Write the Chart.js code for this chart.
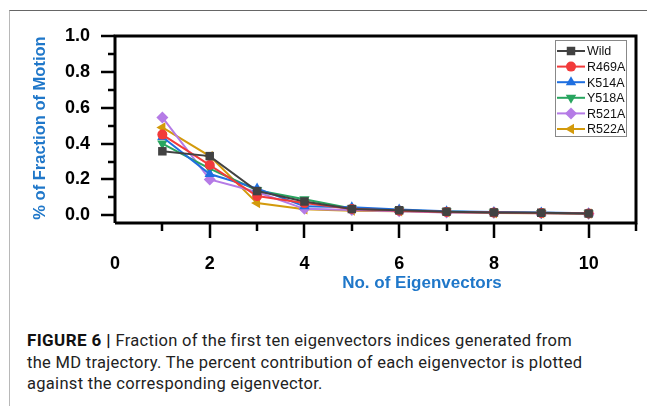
<!DOCTYPE html>
<html>
<head>
<meta charset="utf-8">
<script src="https://cdn.jsdelivr.net/npm/chart.js@4"></script>
<style>
  body { margin: 0; background: #fff; width: 647px; height: 406px; overflow: hidden; position: relative; font-family: "Liberation Sans", Arial, sans-serif; }
  #frame { position: absolute; left: 9px; top: 10px; width: 700px; height: 420px; border-top: 1.5px solid #666; border-left: 1.5px solid #b8b8b8; }
  #wrap { position: absolute; left: 0; top: 0; width: 647px; height: 300px; }
  #caption { position: absolute; left: 27px; top: 330px; width: 620px; white-space: nowrap; font-size: 16.5px; line-height: 21.5px; color: #222; font-family: Roboto, "Liberation Sans", Arial, sans-serif; letter-spacing: 0.3px; }
  #caption b { font-weight: 700; color: #111; font-size: 17px; letter-spacing: 0.4px; }
</style>
</head>
<body>
<div id="frame"></div>
<div id="wrap"><canvas id="motionChart" width="647" height="300"></canvas></div>
<div id="caption"><b>FIGURE 6 |</b> Fraction of the first ten eigenvectors indices generated from<br>the MD trajectory. The percent contribution of each eigenvector is plotted<br>against the corresponding eigenvector.</div>

<script>
var eigenvectors = [1, 2, 3, 4, 5, 6, 7, 8, 9, 10];
var seriesNames = ["Wild", "R469A", "K514A", "Y518A", "R521A", "R522A"];
var wild  = [0.357, 0.330, 0.135, 0.077, 0.035, 0.028, 0.020, 0.016, 0.014, 0.010];
var r469a = [0.450, 0.280, 0.107, 0.068, 0.035, 0.025, 0.019, 0.015, 0.013, 0.010];
var k514a = [0.437, 0.230, 0.150, 0.050, 0.045, 0.032, 0.022, 0.018, 0.016, 0.011];
var y518a = [0.400, 0.260, 0.140, 0.090, 0.038, 0.028, 0.021, 0.016, 0.013, 0.010];
var r521a = [0.546, 0.200, 0.130, 0.036, 0.030, 0.022, 0.016, 0.014, 0.012, 0.009];
var r522a = [0.490, 0.330, 0.068, 0.034, 0.026, 0.022, 0.017, 0.013, 0.011, 0.009];
var yTicks = [0.0, 0.2, 0.4, 0.6, 0.8, 1.0];
var xTicks = [0, 2, 4, 6, 8, 10];

var colors = ["#424242", "#f23a3a", "#1f6fe0", "#28a55f", "#b57be6", "#d39a0c"];
var shapes = ["rect", "circle", "triangle", "triangle", "rectRot", "triangle"];
var rotations = [0, 0, 0, 180, 0, -90];
var allValues = [wild, r469a, k514a, y518a, r521a, r522a];
var blue = "#1f77c9";

var datasets = seriesNames.map(function (name, i) {
    return {
        label: name,
        data: eigenvectors.map(function (x, j) { return { x: x, y: allValues[i][j] }; }),
        borderColor: colors[i],
        backgroundColor: colors[i],
        borderWidth: 2,
        pointStyle: shapes[i],
        pointRotation: rotations[i],
        pointRadius: shapes[i] == "circle" ? 5 : 6,
        pointBorderWidth: 0,
        tension: 0
    };
});

// ticks, frame, legend and axis titles
var decorations = {
    id: "decorations",
    afterDraw: function (chart) {
        var c = chart.ctx, a = chart.chartArea;
        var xs = chart.scales.x, ys = chart.scales.y;
        c.save();
        c.strokeStyle = "#000";
        c.lineWidth = 3;
        c.beginPath();
        c.moveTo(a.left, a.bottom); c.lineTo(a.left, a.top); c.lineTo(a.right, a.top);
        c.lineTo(a.right, a.bottom); c.lineTo(a.left, a.bottom);
        c.stroke();
        c.lineWidth = 2.5;
        c.beginPath();
        for (var v = 0; v <= 1.0001; v += 0.1) {
            var py = Math.round(ys.getPixelForValue(v));
            var major = Math.round(v * 10) % 2 == 0;
            c.moveTo(a.left, py); c.lineTo(a.left - (major ? 14 : 7), py);
        }
        for (var x = 1; x <= 11; x++) {
            var px = Math.round(xs.getPixelForValue(x));
            var majorX = x % 2 == 0;
            c.moveTo(px, a.bottom); c.lineTo(px, a.bottom + (majorX ? 15 : 8));
        }
        c.stroke();

        // axis titles
        c.fillStyle = blue;
        c.textAlign = "center";
        c.textBaseline = "middle";
        c.font = "bold 17px 'Liberation Sans', Arial, sans-serif";
        c.fillText("No. of Eigenvectors", 422, 283);
        c.font = "bold 16.5px 'Liberation Sans', Arial, sans-serif";
        c.translate(40, 128);
        c.rotate(-Math.PI / 2);
        c.fillText("% of Fraction of Motion", 0, 0);
        c.restore();

        // legend
        c.save();
        c.strokeStyle = "#888";
        c.lineWidth = 1;
        c.strokeRect(555.5, 40.5, 71, 96);
        c.font = "12.5px 'Liberation Sans', Arial, sans-serif";
        c.textBaseline = "middle";
        c.textAlign = "left";
        chart.data.datasets.forEach(function (ds, i) {
            var ly = 51 + i * 15.6;
            c.strokeStyle = ds.borderColor;
            c.lineWidth = 2;
            c.beginPath(); c.moveTo(557, ly); c.lineTo(585, ly); c.stroke();
            c.fillStyle = ds.backgroundColor;
            Chart.helpers.drawPoint(c, { pointStyle: ds.pointStyle, rotation: ds.pointRotation, radius: ds.pointStyle == "circle" ? 5 : 6, borderWidth: 0 }, 571, ly);
            c.fillStyle = "#111";
            c.fillText(ds.label, 587, ly + 1);
        });
        c.restore();
    }
};

var ctx = document.getElementById("motionChart");
var motionChart = new Chart(ctx, {
    type: "line",
    data: { datasets: datasets },
    options: {
        responsive: false,
        animation: false,
        devicePixelRatio: 1,
        layout: { padding: { left: 0, top: 36, right: 11, bottom: 0 } },
        plugins: { legend: { display: false }, tooltip: { enabled: false } },
        scales: {
            x: {
                type: "linear",
                min: 0, max: 11,
                afterBuildTicks: function (s) { s.ticks = xTicks.map(function (v) { return { value: v }; }); },
                afterFit: function (s) { s.height = 77; },
                grid: { display: false, drawTicks: false },
                border: { display: false },
                ticks: { color: "#000", padding: 30, font: { size: 18, weight: "bold", family: "'Liberation Sans', Arial" } }
            },
            y: {
                min: -0.043, max: 1.0,
                afterBuildTicks: function (s) { s.ticks = yTicks.map(function (v) { return { value: v }; }); },
                afterFit: function (s) { s.width = 115; },
                grid: { display: false, drawTicks: false },
                border: { display: false },
                ticks: {
                    color: "#000", padding: 25,
                    font: { size: 18, weight: "bold", family: "'Liberation Sans', Arial" },
                    callback: function (v) { return Number(v).toFixed(1); }
                }
            }
        }
    },
    plugins: [decorations]
});
</script>
</body>
</html>
